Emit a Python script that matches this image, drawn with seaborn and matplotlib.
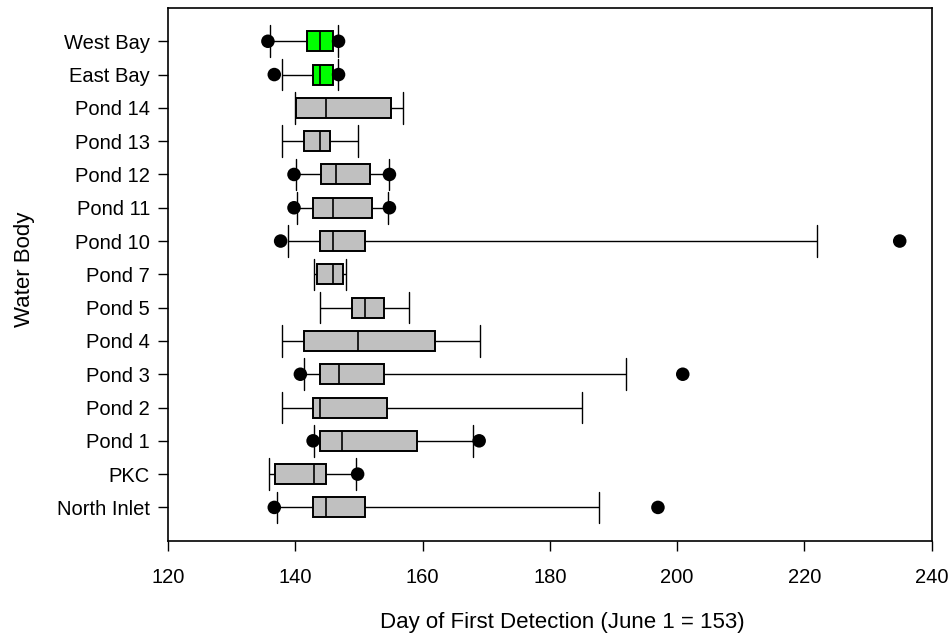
import numpy as np
import pandas as pd
import matplotlib
matplotlib.use("Agg")
import matplotlib.pyplot as plt
import seaborn as sns

# categories, top to bottom
water_bodies = ["West Bay", "East Bay", "Pond 14", "Pond 13", "Pond 12", "Pond 11",
                "Pond 10", "Pond 7", "Pond 5", "Pond 4", "Pond 3", "Pond 2",
                "Pond 1", "PKC", "North Inlet"]

# box summaries (day of year)
whisker_lo = [136.0, 137.9, 139.9, 137.9, 140.1, 140.3, 138.9, 142.9, 143.9, 137.9, 141.3, 137.9, 143.0, 135.9, 137.1]
q1 = [141.8, 142.8, 140.1, 141.4, 144.1, 142.8, 143.9, 143.4, 148.9, 141.4, 143.9, 142.8, 143.9, 136.8, 142.8]
median = [143.9, 143.9, 144.8, 143.9, 146.4, 145.9, 145.9, 145.9, 150.9, 149.9, 146.9, 143.9, 147.4, 142.9, 144.8]
q3 = [145.9, 145.9, 155.0, 145.4, 151.7, 152.0, 150.9, 147.5, 153.9, 161.9, 153.9, 154.4, 159.2, 144.9, 150.9]
whisker_hi = [146.7, 146.7, 157.0, 149.9, 154.8, 154.5, 222.0, 147.9, 157.9, 169.0, 192.0, 185.0, 168.0, 149.6, 187.8]

# dots (5th / 95th percentile markers)
dot_names = ["West Bay", "West Bay", "East Bay", "East Bay", "Pond 12", "Pond 12",
             "Pond 11", "Pond 11", "Pond 10", "Pond 10", "Pond 3", "Pond 3",
             "Pond 1", "Pond 1", "PKC", "North Inlet", "North Inlet"]
dot_values = [135.7, 146.8, 136.7, 146.8, 139.8, 154.8,
              139.8, 154.8, 137.7, 235.0, 140.8, 200.9,
              142.8, 168.9, 149.8, 136.7, 197.0]

bay_colour = "#00FF00"
pond_colour = "#C0C0C0"

# five values per body reproduce its quartiles exactly
rows = []
for i, name in enumerate(water_bodies):
    for v in (whisker_lo[i], q1[i], median[i], q3[i], whisker_hi[i]):
        rows.append({"body": name, "day": v})
df = pd.DataFrame(rows)
dots = pd.DataFrame({"body": dot_names, "day": dot_values})

palette = {n: (bay_colour if "Bay" in n else pond_colour) for n in water_bodies}

sns.set_style("white")
plt.rcParams["font.family"] = ["Liberation Sans", "DejaVu Sans"]
plt.rcParams["axes.labelcolor"] = "black"
plt.rcParams["text.color"] = "black"

fig = plt.figure(figsize=(9.52, 6.33), dpi=100)
ax = fig.add_axes([0.1765, 0.1458, 0.802, 0.8416])

sns.boxplot(data=df, x="day", y="body", hue="body", palette=palette, order=water_bodies,
            orient="h", whis=np.inf, width=0.6, capwidths=0.95, legend=False,
            linecolor="black", linewidth=1.4, saturation=1, ax=ax,
            whiskerprops={"linewidth": 1.0}, capprops={"linewidth": 1.0},
            medianprops={"linewidth": 1.2})

sns.scatterplot(data=dots, x="day", y="body", color="black", s=95, edgecolor="none",
                zorder=5, ax=ax)

ax.set_xlim(120, 240)
ax.set_ylim(len(water_bodies), -1)
ax.set_xticks(np.arange(120, 241, 20))
ax.set_xlabel("Day of First Detection (June 1 = 153)", fontsize=16, labelpad=18, color="black")
ax.set_ylabel("Water Body", fontsize=16, labelpad=16, color="black")
ax.xaxis.label.set_x(0.517)
ax.yaxis.label.set_y(0.51)
ax.tick_params(axis="both", which="both", direction="out", length=7, width=1,
               colors="black", labelsize=14.5, left=True, bottom=True, top=False, right=False)
ax.tick_params(axis="x", pad=13)
ax.tick_params(axis="y", pad=6)
for s in ax.spines.values():
    s.set_visible(True)
    s.set_color("black")
    s.set_linewidth(1.2)

fig.savefig("out.png", dpi=100)
